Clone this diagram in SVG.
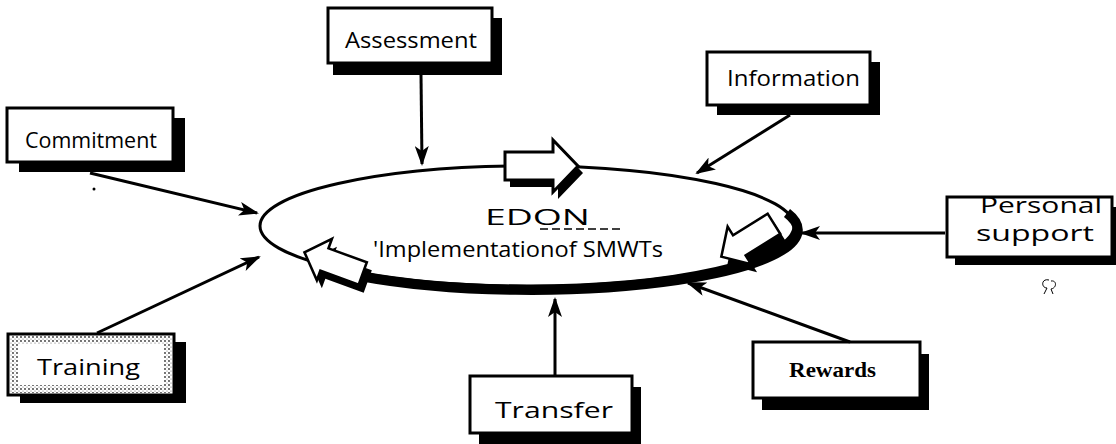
<svg xmlns="http://www.w3.org/2000/svg" width="1116" height="444" viewBox="0 0 1116 444">
<defs>
<style>
.box{fill:#fff;stroke:#000;stroke-width:3}
.sh{fill:#000}
.lbl{font-family:"Open Sans","Liberation Sans",sans-serif;font-size:22px;fill:#000}
.conn{stroke:#000;stroke-width:3;fill:none;marker-end:url(#ah)}
.barr{fill:#fff;stroke:#000;stroke-width:3;stroke-linejoin:miter}
</style>
<marker id="ah" viewBox="0 0 20 14" refX="18" refY="7" markerWidth="20" markerHeight="14" markerUnits="userSpaceOnUse" orient="auto">
<path d="M0,0 L20,7 L0,14 L5,7 Z" fill="#000"/>
</marker>
<pattern id="stip" width="4" height="4" patternUnits="userSpaceOnUse">
<circle cx="1" cy="1" r="0.9" fill="#333"/>
<circle cx="3" cy="3" r="0.6" fill="#666"/>
</pattern>
<path id="blk" d="M-36,-14 H12 V-26 L37,0 L12,26 V14 H-36 Z"/>
</defs>

<g id="cycle">
<ellipse cx="527" cy="226" rx="267" ry="60" fill="#fff" stroke="#000" stroke-width="3"/>
<path d="M360,276 A267 60 0 0 0 787,213" fill="none" stroke="#000" stroke-width="10"/>
<g transform="translate(541,166)">
<use href="#blk" class="sh" transform="translate(5,7)"/>
<use href="#blk" class="barr"/>
</g>
<g transform="translate(334,263)">
<use href="#blk" class="sh" transform="translate(5,8) rotate(200) scale(0.85)"/>
<use href="#blk" class="barr" transform="rotate(200) scale(0.85)"/>
</g>
<g transform="translate(748,240)">
<use href="#blk" class="sh" transform="translate(6,8) rotate(148) scale(0.85)"/>
<use href="#blk" class="barr" transform="rotate(148) scale(0.85)"/>
</g>
<text class="lbl" x="485" y="225" font-size="30" textLength="105" lengthAdjust="spacingAndGlyphs">EDON</text>
<line x1="540" y1="229" x2="623" y2="229" stroke="#000" stroke-width="1.5" stroke-dasharray="8,4"/>
<text class="lbl" x="373" y="257" font-size="22" textLength="290" lengthAdjust="spacingAndGlyphs">'Implementationof SMWTs</text>
</g>

<g id="node-assessment">
<rect class="sh" x="333" y="18" width="169" height="57"/>
<rect class="box" x="328" y="8" width="164" height="55"/>
<text class="lbl" x="345" y="48" textLength="132" lengthAdjust="spacingAndGlyphs">Assessment</text>
</g>

<g id="node-commitment">
<rect class="sh" x="19" y="118" width="166" height="54"/>
<rect class="box" x="7" y="108" width="166" height="54"/>
<text class="lbl" x="25" y="148" textLength="132" lengthAdjust="spacingAndGlyphs">Commitment</text>
</g>

<g id="node-information">
<rect class="sh" x="717" y="62" width="163" height="53"/>
<rect class="box" x="707" y="52" width="163" height="53"/>
<text class="lbl" x="727" y="86" textLength="133" lengthAdjust="spacingAndGlyphs">Information</text>
</g>

<g id="node-personal-support">
<rect class="sh" x="955" y="207" width="161" height="58"/>
<rect class="box" x="947" y="197" width="165" height="60"/>
<text class="lbl" x="980" y="213" font-size="16" textLength="122" lengthAdjust="spacingAndGlyphs">Personal</text>
<text class="lbl" x="976" y="241" font-size="16" textLength="118" lengthAdjust="spacingAndGlyphs">support</text>
</g>

<g id="node-rewards">
<rect class="sh" x="762" y="354" width="167" height="56"/>
<rect class="box" x="753" y="342" width="167" height="56"/>
<text x="789" y="377" font-family="'Liberation Serif',serif" font-weight="bold" font-size="21" textLength="87" lengthAdjust="spacingAndGlyphs">Rewards</text>
</g>

<g id="node-transfer">
<rect class="sh" x="479" y="387" width="162" height="57"/>
<rect class="box" x="470" y="376" width="162" height="57"/>
<text class="lbl" x="495" y="418" font-size="24" textLength="118" lengthAdjust="spacingAndGlyphs">Transfer</text>
</g>

<g id="node-training">
<rect class="sh" x="20" y="342" width="166" height="61"/>
<rect class="box" x="8" y="334" width="166" height="61"/>
<rect x="14" y="340" width="154" height="49" fill="none" stroke="url(#stip)" stroke-width="8"/>
<text class="lbl" x="37" y="375" font-size="24" textLength="103" lengthAdjust="spacingAndGlyphs">Training</text>
</g>

<g id="connectors">
<line class="conn" x1="421" y1="75" x2="422" y2="164"/>
<line class="conn" x1="90" y1="173" x2="257" y2="213"/>
<line class="conn" x1="790" y1="115" x2="697" y2="173"/>
<line class="conn" x1="945" y1="233" x2="802" y2="233"/>
<line class="conn" x1="850" y1="342" x2="688" y2="283"/>
<line class="conn" x1="555" y1="376" x2="555" y2="299"/>
<line class="conn" x1="97" y1="333" x2="259" y2="257"/>
</g>

<g id="marks">
<circle cx="94" cy="189" r="1.5" fill="#000"/>
<path d="M1049,280 C1041,278 1041,288 1047,288 M1047,288 L1044,294 M1051,281 C1057,280 1057,288 1051,289 L1053,294" fill="none" stroke="#000" stroke-width="1"/>
</g>
</svg>
